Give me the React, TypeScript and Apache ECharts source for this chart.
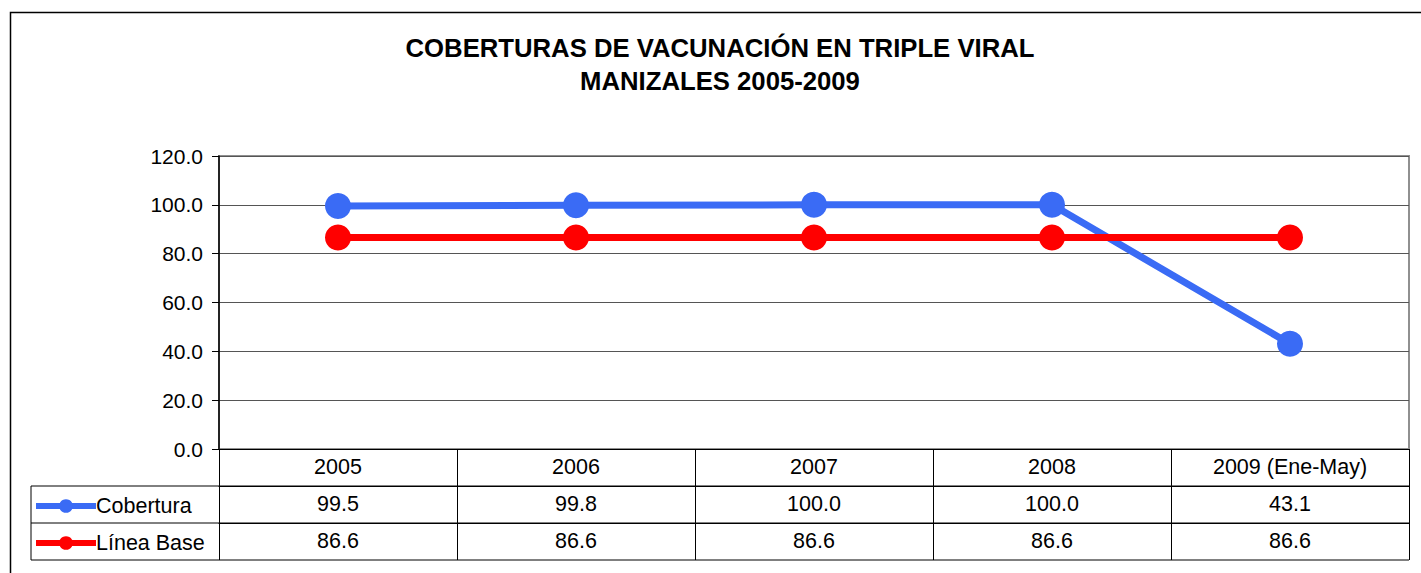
import React, { useEffect, useRef } from "react";
import * as echarts from "echarts";

const categories = ["2005", "2006", "2007", "2008", "2009 (Ene-May)"];
const cobertura = [99.5, 99.8, 100.0, 100.0, 43.1];
const lineaBase = [86.6, 86.6, 86.6, 86.6, 86.6];
const yTicks = { min: 0, max: 120, interval: 20 };
const titleText = "COBERTURAS DE VACUNACIÓN EN TRIPLE VIRAL\nMANIZALES 2005-2009";

const FONT = "'Liberation Sans', Arial, sans-serif";
const BLUE = "#3A6BF5";
const RED = "#FF0000";

export default function App() {
  const ref = useRef<HTMLDivElement>(null);
  useEffect(() => {
    if (!ref.current) return;
    const chart = echarts.init(ref.current, undefined, { renderer: "svg" });
    const gridLeft = 219;
    const gridTop = 156;
    const gridRight = 1409;
    const gridBottom = 449;
    const rowH = 37;
    const tableLeft = 31;

    const rowAxis = (offset: number, values: number[] | null) => ({
      type: "category",
      data: categories,
      gridIndex: 0,
      position: "bottom",
      offset,
      boundaryGap: true,
      axisLine: { show: true, lineStyle: { color: "#000", width: 1 } },
      axisTick: { show: true, interval: 0, length: rowH, lineStyle: { color: "#000", width: 1 } },
      axisLabel: {
        show: true,
        interval: 0,
        margin: 7,
        fontSize: 21.5,
        color: "#000",
        fontFamily: FONT,
        formatter: (v: string, i: number) => (values ? values[i].toFixed(1) : v),
      },
      splitLine: { show: false },
    });

    chart.setOption({
      animation: false,
      textStyle: { fontFamily: FONT },
      title: {
        text: titleText,
        left: 720,
        top: 31,
        padding: 0,
        textAlign: "center",
        textStyle: {
          fontSize: 25.7,
          fontWeight: "bold",
          color: "#000",
          lineHeight: 33,
          fontFamily: FONT,
        },
      },
      legend: {
        orient: "vertical",
        left: 28,
        top: 490,
        itemWidth: 60,
        itemHeight: 17,
        itemGap: 15,
        textStyle: { fontSize: 21.5, lineHeight: 17, color: "#000", fontFamily: FONT, padding: [3, 0, 0, -5] },
        lineStyle: { width: 6 },
        data: ["Cobertura", "Línea Base"],
      },
      grid: {
        left: gridLeft,
        top: gridTop,
        width: gridRight - gridLeft,
        height: gridBottom - gridTop,
        show: true,
        borderColor: "#909090",
        borderWidth: 2,
        backgroundColor: "transparent",
      },
      xAxis: [rowAxis(0, null), rowAxis(rowH, cobertura), rowAxis(rowH * 2, lineaBase)],
      yAxis: {
        type: "value",
        min: yTicks.min,
        max: yTicks.max,
        interval: yTicks.interval,
        axisLine: { show: true, lineStyle: { color: "#000", width: 1.5 } },
        axisTick: { show: true, length: 7, lineStyle: { color: "#000" } },
        axisLabel: {
          margin: 16,
          fontSize: 21,
          color: "#000",
          fontFamily: FONT,
          formatter: (v: number) => v.toFixed(1),
        },
        splitLine: { show: true, lineStyle: { color: "#555", width: 1 } },
      },
      series: [
        {
          name: "Cobertura",
          type: "line",
          xAxisIndex: 0,
          data: cobertura,
          symbol: "circle",
          symbolSize: 26,
          lineStyle: { color: BLUE, width: 7 },
          itemStyle: { color: BLUE },
          z: 3,
        },
        {
          name: "Línea Base",
          type: "line",
          xAxisIndex: 0,
          data: lineaBase,
          symbol: "circle",
          symbolSize: 26,
          lineStyle: { color: RED, width: 7 },
          itemStyle: { color: RED },
          z: 4,
        },
      ],
      graphic: [
        {
          type: "rect",
          shape: { x: 10.5, y: 12.5, width: 1430, height: 600 },
          style: { fill: "none", stroke: "#000", lineWidth: 1.5 },
          z: -1,
        },
        ...[1, 2, 3].map((k) => ({
          type: "line",
          shape: { x1: tableLeft, y1: gridBottom + rowH * k, x2: gridRight, y2: gridBottom + rowH * k },
          style: { stroke: "#000", lineWidth: 1 },
        })),
        {
          type: "line",
          shape: { x1: tableLeft, y1: gridBottom + rowH, x2: tableLeft, y2: gridBottom + rowH * 3 },
          style: { stroke: "#000", lineWidth: 1 },
        },
      ],
    });
    return () => chart.dispose();
  }, []);
  return (
    <div
      ref={ref}
      style={{ position: "absolute", left: 0, top: 0, width: 1421, height: 573 }}
    />
  );
}
